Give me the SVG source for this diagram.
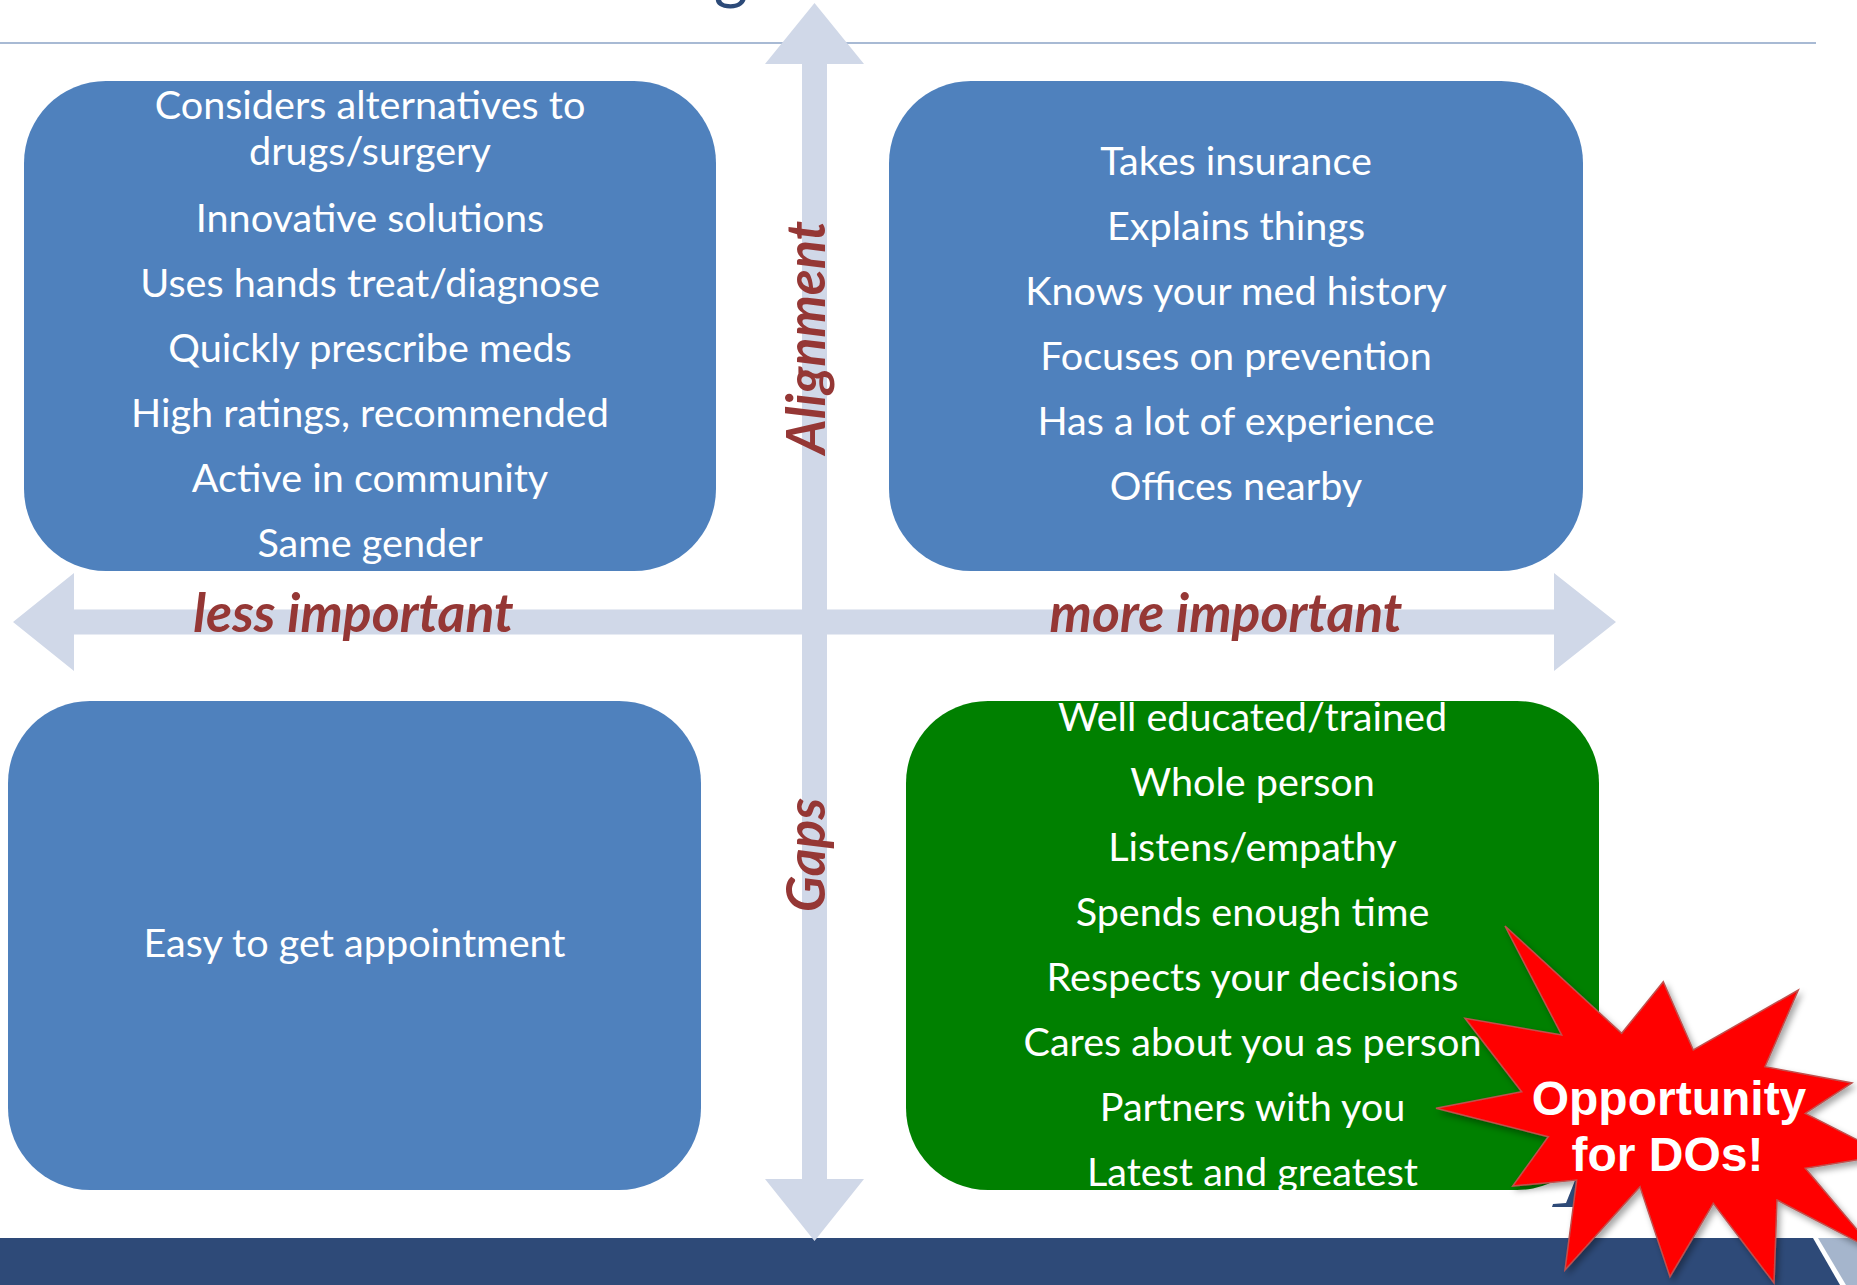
<svg xmlns="http://www.w3.org/2000/svg" width="1857" height="1285" viewBox="0 0 1857 1285">
  <style>
    .box-blue { fill: #4f81bd; }
    .box-green { fill: #008000; }
    .item { font-family: Lato, "Open Sans", sans-serif; font-size: 39.6px; fill: #ffffff; text-anchor: middle; }
    .axis-label { font-family: Lato, "Open Sans", sans-serif; font-size: 53.5px; font-weight: bold; font-style: italic; fill: #953735; text-anchor: middle; }
    .burst-text { font-family: "Liberation Sans", Arial, sans-serif; font-size: 48px; font-weight: bold; fill: #ffffff; text-anchor: middle; }
    .axis { fill: #d0d8e8; }
  </style>
  <defs>
    <filter id="burst-shadow" x="-10%" y="-10%" width="130%" height="130%">
      <feDropShadow dx="3" dy="4" stdDeviation="3" flood-color="#000000" flood-opacity="0.35"/>
    </filter>
  </defs>

  <rect x="0" y="0" width="1857" height="1285" fill="#ffffff"/>

  <!-- slide title (only its descender reaches the canvas) and rule -->
  <text x="731" y="-3" font-family="Lato, 'Open Sans', sans-serif" font-size="66" fill="#2c4a78" text-anchor="middle">g</text>
  <line x1="0" y1="43" x2="1816" y2="43" stroke="#a8bad4" stroke-width="2"/>

  <!-- footer band -->
  <g id="footer">
    <rect x="0" y="1238" width="1857" height="47" fill="#2e4a78"/>
    <polygon points="1813,1238 1857,1238 1857,1285 1840,1285" fill="#ffffff"/>
    <polygon points="1818,1238 1857,1238 1857,1285 1846,1285" fill="#a5b5cc"/>
    <polygon points="1552,1207 1575,1207 1576,1203 1584,1180 1576,1178 1566,1203 1553,1204" fill="#2e4a78"/>
  </g>

  <!-- axes -->
  <g id="connectors">
    <polygon class="axis" points="13,622 74,573 74,609.5 1554,609.5 1554,573 1616,622 1554,671 1554,634.5 74,634.5 74,671"/>
    <polygon class="axis" points="814.5,3 864,64 827,64 827,1179 864,1179 814.5,1241 765,1179 802,1179 802,64 765,64"/>
  </g>

  <g id="axis-labels">
    <text class="axis-label" x="353.5" y="632">less important</text>
    <text class="axis-label" x="1226" y="632">more important</text>
    <text class="axis-label" transform="translate(825,337.5) rotate(-90)">Alignment</text>
    <text class="axis-label" transform="translate(825,855) rotate(-90)">Gaps</text>
  </g>

  <!-- quadrant: less important / alignment -->
  <g id="q-top-left">
    <rect class="box-blue" x="24" y="81" width="692" height="490" rx="82" ry="82"/>
    <text class="item" x="370" y="119">Considers alternatives to</text>
    <text class="item" x="370" y="165">drugs/surgery</text>
    <text class="item" x="370" y="232">Innovative solutions</text>
    <text class="item" x="370" y="297">Uses hands treat/diagnose</text>
    <text class="item" x="370" y="362">Quickly prescribe meds</text>
    <text class="item" x="370" y="427">High ratings, recommended</text>
    <text class="item" x="370" y="492">Active in community</text>
    <text class="item" x="370" y="557">Same gender</text>
  </g>

  <!-- quadrant: more important / alignment -->
  <g id="q-top-right">
    <rect class="box-blue" x="889" y="81" width="694" height="490" rx="82" ry="82"/>
    <text class="item" x="1236" y="175">Takes insurance</text>
    <text class="item" x="1236" y="240">Explains things</text>
    <text class="item" x="1236" y="305">Knows your med history</text>
    <text class="item" x="1236" y="370">Focuses on prevention</text>
    <text class="item" x="1236" y="435">Has a lot of experience</text>
    <text class="item" x="1236" y="500">Offices nearby</text>
  </g>

  <!-- quadrant: less important / gaps -->
  <g id="q-bottom-left">
    <rect class="box-blue" x="8" y="701" width="693" height="489" rx="82" ry="82"/>
    <text class="item" x="354.5" y="957">Easy to get appointment</text>
  </g>

  <!-- quadrant: more important / gaps -->
  <g id="q-bottom-right">
    <rect class="box-green" x="906" y="701" width="693" height="489" rx="82" ry="82"/>
    <text class="item" x="1252.5" y="731">Well educated/trained</text>
    <text class="item" x="1252.5" y="796">Whole person</text>
    <text class="item" x="1252.5" y="861">Listens/empathy</text>
    <text class="item" x="1252.5" y="926">Spends enough time</text>
    <text class="item" x="1252.5" y="991">Respects your decisions</text>
    <text class="item" x="1252.5" y="1056">Cares about you as person</text>
    <text class="item" x="1252.5" y="1121">Partners with you</text>
    <text class="item" x="1252.5" y="1186">Latest and greatest</text>
  </g>

  <!-- callout burst -->
  <g id="callout">
    <polygon filter="url(#burst-shadow)" fill="#ff0000" stroke="#c0504d" stroke-width="1.5" stroke-linejoin="miter"
      points="1505,926 1621.7,1033.3 1663.3,981.7 1693.3,1050 1798.3,990 1765,1066.7 1852,1083 1805.3,1113.3 1887,1155 1805.3,1168.3 1875,1251 1777,1200 1774,1283 1713.3,1203.3 1670,1276.7 1640,1186.7 1565,1270 1576.7,1180 1512.7,1186 1548.3,1136.7 1436,1108.3 1521.7,1091.7 1465,1018.3 1561.7,1035"/>
    <text class="burst-text" x="1669" y="1115">Opportunity</text>
    <text class="burst-text" x="1667.5" y="1171">for DOs!</text>
  </g>
</svg>
